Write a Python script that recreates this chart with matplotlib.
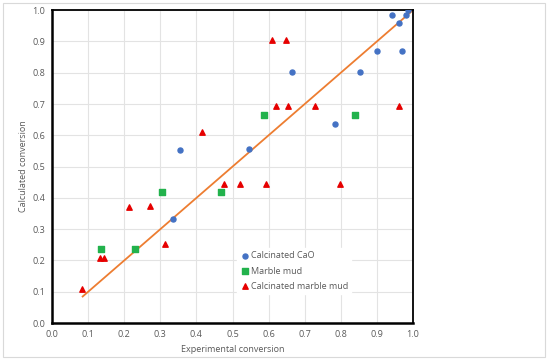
import matplotlib
matplotlib.use("Agg")
import matplotlib.pyplot as plt
from matplotlib.patches import Rectangle

# data
cao_x = [0.355, 0.546, 0.335, 0.664, 0.852, 0.785, 0.901, 0.970, 0.943, 0.980, 0.961, 0.986]
cao_y = [0.553, 0.556, 0.332, 0.802, 0.802, 0.636, 0.870, 0.868, 0.983, 0.983, 0.959, 1.000]

mud_x = [0.588, 0.838, 0.304, 0.468, 0.137, 0.231]
mud_y = [0.664, 0.664, 0.420, 0.420, 0.237, 0.237]

cmud_x = [0.416, 0.608, 0.647, 0.620, 0.654, 0.729, 0.961, 0.083, 0.134, 0.143,
          0.212, 0.271, 0.313, 0.477, 0.522, 0.592, 0.797]
cmud_y = [0.609, 0.905, 0.905, 0.693, 0.693, 0.693, 0.693, 0.110, 0.207, 0.207,
          0.372, 0.375, 0.253, 0.445, 0.445, 0.445, 0.445]

fit_x = [0.085, 1.0]
fit_y = [0.085, 1.0]

ticks = [0.0, 0.1, 0.2, 0.3, 0.4, 0.5, 0.6, 0.7, 0.8, 0.9, 1.0]
labels = ["Calcinated CaO", "Marble mud", "Calcinated marble mud"]

plt.rcParams['font.family'] = ['Open Sans', 'DejaVu Sans']

fig = plt.figure(figsize=(5.5, 3.61), dpi=100)
# chart area border
fig.patches.append(Rectangle((3 / 550, 4 / 361), 542 / 550, 354 / 361,
                             transform=fig.transFigure, fill=False,
                             edgecolor='#d9d9d9', linewidth=0.8))

ax = fig.add_axes([0.0945, 0.105, 0.6565, 0.867])

ax.plot(fit_x, fit_y, color='#ED7D31', linewidth=1.3, zorder=2)
ax.scatter(cao_x, cao_y, s=13, marker='o', color='#4472C4', label=labels[0], zorder=3)
ax.scatter(mud_x, mud_y, s=14, marker='s', color='#22B24C', label=labels[1], zorder=3)
ax.scatter(cmud_x, cmud_y, s=15, marker='^', color='#E60000', label=labels[2], zorder=3)

ax.set_xlim(0, 1)
ax.set_ylim(0, 1)
ax.set_xticks(ticks)
ax.set_yticks(ticks)
ax.set_xticklabels([f"{t:.1f}" for t in ticks])
ax.set_yticklabels([f"{t:.1f}" for t in ticks])
ax.tick_params(length=0, labelsize=6.5, labelcolor='#595959', pad=5)
ax.grid(True, color='#e3e3e3', linewidth=0.8)
ax.set_axisbelow(True)

for side in ['top', 'right']:
    ax.spines[side].set_linewidth(1.3)
    ax.spines[side].set_color('black')
for side in ['left', 'bottom']:
    ax.spines[side].set_linewidth(1.8)
    ax.spines[side].set_color('black')

ax.set_xlabel("Experimental conversion", fontsize=6.5, color='#595959', labelpad=4)
ax.set_ylabel("Calculated conversion", fontsize=6.5, color='#595959', labelpad=3)

leg = ax.legend(loc='lower left', bbox_to_anchor=(0.5, 0.08), frameon=True,
                fontsize=6.5, handletextpad=0.1, labelspacing=0.7,
                borderpad=0.3, markerscale=1.0, handlelength=1.2)
leg.get_frame().set_facecolor('white')
leg.get_frame().set_edgecolor('white')
leg.get_frame().set_alpha(1.0)
for t in leg.get_texts():
    t.set_color('#595959')

fig.savefig("out.png", dpi=100)
